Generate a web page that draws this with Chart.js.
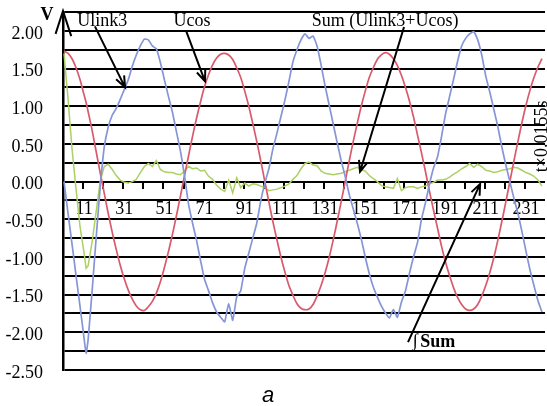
<!DOCTYPE html>
<html><head><meta charset="utf-8">
<script src="https://cdn.jsdelivr.net/npm/chart.js@4.4.1/dist/chart.umd.min.js"></script>
<style>html,body{margin:0;padding:0;background:#fff;overflow:hidden}#wrap{width:547px;height:406px;position:relative}</style>
</head><body><div id="wrap"><canvas id="c" width="547" height="406"></canvas></div>
<script>
// sample numbers (category index on the horizontal axis)
const sampleIndex = [1,3,5,7,9,11,12,13,15,17,19,21,23,25,27,29,31,33,35,37,39,41,
 43,45,47,49,51,53,55,57,59,61,63,65,67,69,71,73,75,77,79,81,
 83,85,87,89,91,93,95,97,99,101,103,105,107,109,111,113,115,117,119,121,
 123,125,127,129,131,133,135,137,139,141,143,145,147,149,151,153,155,157,159,161,
 163,165,167,169,171,173,175,177,179,181,183,185,187,189,191,193,195,197,199,201,203,
 205,207,209,211,213,215,217,219,221,223,225,227,229,231,233,235,237,239];

const ulink3 = [0.00,-0.42,-0.83,-1.25,-1.66,-2.08,-2.28,-2.10,-1.45,-0.75,-0.08,0.45,0.72,0.88,0.97,1.09,1.22,1.35,1.53,1.68,1.80,1.89,
 1.88,1.80,1.76,1.58,1.35,1.13,0.92,0.66,0.40,0.08,-0.30,-0.55,-0.78,-1.05,-1.30,-1.45,-1.61,-1.73,-1.80,-1.86,
 -1.62,-1.84,-1.53,-1.45,-1.15,-0.95,-0.75,-0.55,-0.25,-0.02,0.17,0.43,0.64,0.86,1.08,1.33,1.59,1.75,1.88,1.96,
 1.90,1.93,1.80,1.55,1.27,1.02,0.77,0.52,0.28,0.07,-0.17,-0.36,-0.55,-0.76,-1.00,-1.22,-1.40,-1.53,-1.65,-1.74,
 -1.81,-1.70,-1.80,-1.60,-1.45,-1.22,-1.00,-0.81,-0.50,-0.28,-0.03,0.18,0.33,0.60,0.90,1.13,1.36,1.60,1.80,1.90,1.96,
 1.99,1.88,1.68,1.40,1.19,0.96,0.73,0.46,0.22,0.00,-0.22,-0.42,-0.66,-0.92,-1.17,-1.38,-1.58,-1.73];

const ucos = [1.73,1.70,1.63,1.51,1.35,1.15,1.05,0.93,0.68,0.40,0.12,-0.15,-0.42,-0.67,-0.90,-1.11,-1.29,-1.44,-1.56,-1.65,-1.70,-1.71,
 -1.66,-1.59,-1.48,-1.33,-1.14,-0.93,-0.70,-0.45,-0.19,0.08,0.34,0.60,0.84,1.06,1.26,1.42,1.55,1.64,1.69,1.70,
 1.68,1.62,1.51,1.38,1.20,1.00,0.77,0.53,0.27,0.00,-0.27,-0.53,-0.77,-1.00,-1.20,-1.38,-1.51,-1.62,-1.68,-1.70,
 -1.69,-1.63,-1.52,-1.38,-1.21,-1.01,-0.78,-0.53,-0.27,0.00,0.27,0.53,0.77,1.00,1.20,1.38,1.51,1.62,1.68,1.71,
 1.69,1.63,1.54,1.41,1.25,1.07,0.86,0.62,0.38,0.13,-0.13,-0.38,-0.62,-0.86,-1.07,-1.25,-1.41,-1.54,-1.63,-1.69,-1.71,
 -1.69,-1.63,-1.52,-1.38,-1.21,-1.01,-0.78,-0.53,-0.27,0.00,0.27,0.53,0.78,1.01,1.21,1.38,1.52,1.63];

const sumU = [1.70,1.10,0.43,-0.10,-0.60,-0.95,-1.15,-1.12,-0.80,-0.40,0.00,0.20,0.23,0.16,0.08,0.02,-0.01,-0.02,0.00,0.03,0.12,0.20,
 0.24,0.20,0.28,0.16,0.13,0.12,0.12,0.10,0.09,0.14,0.20,0.17,0.18,0.14,0.15,0.07,0.03,-0.05,-0.10,-0.13,
 0.02,-0.15,0.05,-0.08,-0.02,-0.06,-0.03,-0.04,-0.06,-0.08,-0.12,-0.11,-0.10,-0.08,-0.06,-0.03,0.03,0.08,0.17,0.24,
 0.26,0.22,0.21,0.14,0.11,0.10,0.09,0.10,0.11,0.13,0.15,0.17,0.19,0.16,0.14,0.08,0.04,0.00,-0.05,-0.07,
 -0.08,-0.09,0.04,-0.12,-0.08,-0.07,-0.07,-0.09,-0.07,-0.06,-0.03,-0.01,0.02,0.02,0.03,0.06,0.10,0.13,0.17,0.20,0.24,
 0.19,0.23,0.20,0.15,0.14,0.12,0.13,0.15,0.16,0.17,0.19,0.18,0.15,0.12,0.10,0.07,0.02,-0.06];

const xTickLabels = [11,31,51,71,91,111,131,151,171,191,211,231];
const xMajorTicks = [10.5,20.5,30.5,40.5,50.5,60.5,70.5,80.5,90.5,100.5,110.5,120.5,130.5,140.5,150.5,160.5,170.5,180.5,190.5,200.5,210.5,220.5,230.5];
const yMin = -2.5, yMax = 2.25, yStep = 0.25;
const seriesNames = ['Ulink3','Ucos','Sum (Ulink3+Ucos)'];

// annotation anchors, in data units (index, volts)
const notes = [
  {text:'Ulink3', x:20.1, y:2.13},
  {text:'Ucos', x:64.7, y:2.13},
  {text:'Sum (Ulink3+Ucos)', x:160.9, y:2.13}
];
const arrows = [
  {from:[16.4,2.06], to:[31.4,1.25]},
  {from:[61.8,2.00], to:[71.2,1.33]},
  {from:[170.3,2.05], to:[148.4,0.13]},
  {from:[172.3,-2.13], to:[208.2,-0.03]}
];

const pts = arr => arr.map((v,k)=>({x:sampleIndex[k], y:v}));
const SERIF = "'Liberation Serif', 'Times New Roman', serif";

function arrow(ctx,x1,y1,x2,y2){
  ctx.beginPath(); ctx.moveTo(x1,y1); ctx.lineTo(x2,y2);
  const a=Math.atan2(y2-y1,x2-x1), L=12, t=0.38;
  ctx.moveTo(x2-L*Math.cos(a-t), y2-L*Math.sin(a-t)); ctx.lineTo(x2,y2);
  ctx.lineTo(x2-L*Math.cos(a+t), y2-L*Math.sin(a+t)); ctx.stroke();
}

const annot = {
  id:'annot',
  afterDatasetsDraw(chart){
    const ctx=chart.ctx, xs=chart.scales.x, ys=chart.scales.y;
    const X=v=>xs.getPixelForValue(v), Y=v=>ys.getPixelForValue(v);
    ctx.save();
    ctx.fillStyle='#000'; ctx.strokeStyle='#000'; ctx.lineWidth=2;
    // y axis arrow head
    const tipX=X(0.5), tipY=chart.chartArea.top-1;
    ctx.beginPath(); ctx.moveTo(X(-3.2),Y(1.96)); ctx.lineTo(tipX,tipY); ctx.lineTo(X(4.6),Y(1.93)); ctx.stroke();
    ctx.font='bold 18px '+SERIF; ctx.textAlign='center'; ctx.textBaseline='middle';
    ctx.fillText('V', X(-7.5), Y(2.21));
    ctx.font='18px '+SERIF;
    notes.forEach(n=>ctx.fillText(n.text, X(n.x), Y(n.y)));
    arrows.forEach(a=>arrow(ctx,X(a.from[0]),Y(a.from[1]),X(a.to[0]),Y(a.to[1])));
    ctx.textAlign='left';
    ctx.font='18px '+SERIF; ctx.fillText('\u222B', X(174.6), Y(-2.12));
    ctx.font='bold 18px '+SERIF; ctx.fillText('Sum', X(178.4), Y(-2.13));
    // rotated time note
    ctx.save(); ctx.translate(X(239.2), Y(0.60)); ctx.rotate(-Math.PI/2);
    ctx.font='18px '+SERIF; ctx.textAlign='center'; ctx.fillText('t\u00D70.0155s',0,0); ctx.restore();
    // panel letter
    ctx.font="italic 22px 'Liberation Sans', Arial, sans-serif"; ctx.textAlign='center';
    ctx.fillText('a', X(102.6), chart.height-10);
    ctx.restore();
  }
};

new Chart(document.getElementById('c'), {
  type:'line',
  data:{datasets:[
    {label:seriesNames[0], data:pts(ulink3), borderColor:'#8595d8', borderWidth:1.7, pointRadius:0, tension:0.15},
    {label:seriesNames[1], data:pts(ucos), borderColor:'#d85a6c', borderWidth:1.7, pointRadius:0, tension:0.3},
    {label:seriesNames[2], data:pts(sumU), borderColor:'#acd063', borderWidth:1.5, pointRadius:0, tension:0}
  ]},
  options:{
    responsive:false, animation:false, events:[],
    layout:{padding:{left:0, top:12, right:2, bottom:36}},
    plugins:{legend:{display:false}, tooltip:{enabled:false}},
    scales:{
      y:{type:'linear', position:'left', min:yMin, max:yMax,
         afterFit:s=>{s.width=63; s.paddingTop=0; s.paddingBottom=0;},
         ticks:{stepSize:yStep, autoSkip:false, padding:20, labelOffset:3, color:'#000',
           font:{family:SERIF, size:18},
           callback:v=>Math.abs(v*2-Math.round(v*2))<1e-6 ? v.toFixed(2) : ''},
         grid:{color:'#000', lineWidth:2, drawTicks:false},
         border:{display:true, color:'#000', width:2.5}},
      x:{type:'linear', position:{y:0}, min:0.5, max:240.5,
         afterBuildTicks:s=>{s.ticks=xTickLabels.map(v=>({value:v}));},
         afterFit:s=>{s.paddingLeft=0; s.paddingRight=0;},
         ticks:{autoSkip:false, maxRotation:0, padding:17, color:'#000', font:{family:SERIF, size:18},
           callback:v=>String(v)},
         grid:{display:false, drawTicks:false}, border:{display:false}},
      xMajor:{type:'linear', axis:'x', position:{y:0}, min:0.5, max:240.5,
         afterBuildTicks:s=>{s.ticks=xMajorTicks.map(v=>({value:v}));},
         ticks:{autoSkip:false, callback:()=>'', padding:0},
         grid:{drawOnChartArea:false, drawTicks:true, tickLength:7, color:'#000', lineWidth:2},
         border:{display:false}}
    }
  },
  plugins:[annot]
});
</script>
</body></html>
